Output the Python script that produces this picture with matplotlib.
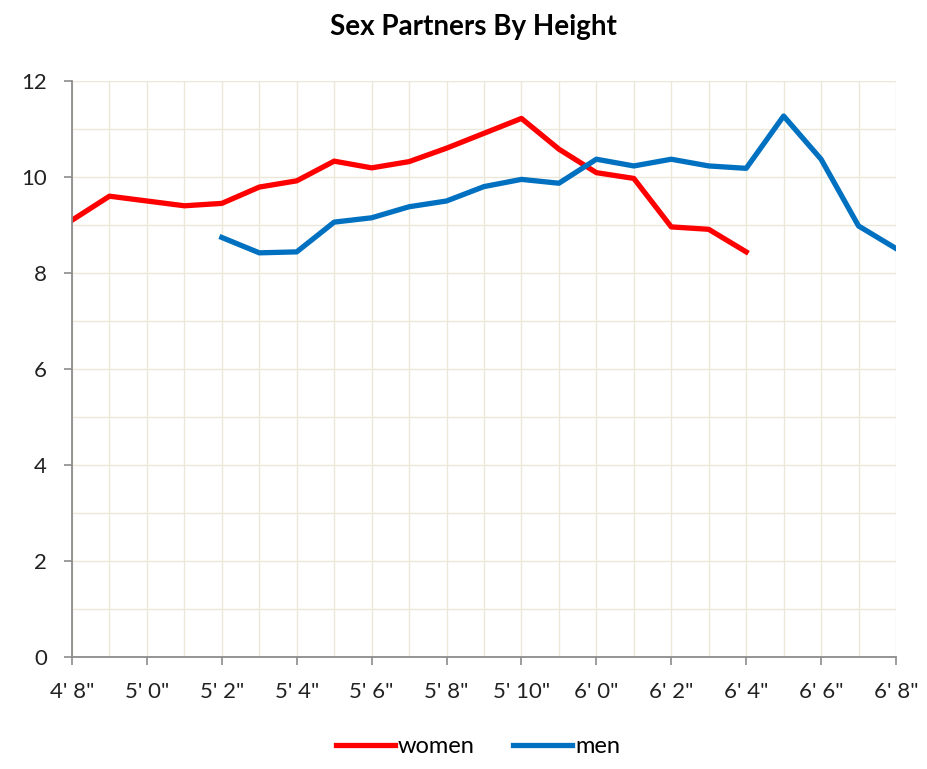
import numpy as np
import matplotlib.pyplot as plt
from matplotlib.ticker import MultipleLocator

# height categories (category axis, labels on every other one)
heights = ["4' 8\"", "4' 10\"", "5' 0\"", "5' 1\"", "5' 2\"", "5' 3\"", "5' 4\"", "5' 5\"",
           "5' 6\"", "5' 7\"", "5' 8\"", "5' 9\"", "5' 10\"", "5' 11\"", "6' 0\"", "6' 1\"",
           "6' 2\"", "6' 3\"", "6' 4\"", "6' 5\"", "6' 6\"", "6' 7\"", "6' 8\""]

women = [9.10, 9.60, 9.50, 9.40, 9.45, 9.79, 9.92, 10.33, 10.19, 10.32, 10.60, 10.91,
         11.22, 10.58, 10.09, 9.97, 8.96, 8.91, 8.44]
men = [8.74, 8.42, 8.44, 9.06, 9.15, 9.38, 9.50, 9.80, 9.95, 9.87, 10.37, 10.23,
       10.37, 10.23, 10.18, 11.27, 10.37, 8.98, 8.51]
men_start = 4

plt.rcParams['font.family'] = ['Lato', 'DejaVu Sans']

fig = plt.figure(figsize=(9.28, 7.69), dpi=100)
ax = fig.add_axes([0.0776, 0.1456, 0.8879, 0.7491])

x_w = np.arange(len(women))
x_m = np.arange(men_start, men_start + len(men))
ax.plot(x_w, women, color='#ff0000', lw=3.8, label='women', solid_joinstyle='round')
ax.plot(x_m, men, color='#0070c0', lw=3.8, label='men', solid_joinstyle='round')

ax.set_xlim(0, len(heights) - 1)
ax.set_ylim(0, 12)

ax.set_xticks(np.arange(0, len(heights), 2))
ax.set_xticklabels(heights[::2])
ax.xaxis.set_minor_locator(MultipleLocator(1))
ax.yaxis.set_major_locator(MultipleLocator(2))
ax.yaxis.set_minor_locator(MultipleLocator(1))

ax.grid(which='both', color='#ebe8da', lw=1)
ax.set_axisbelow(True)

for s in ['top', 'right']:
    ax.spines[s].set_visible(False)
for s in ['left', 'bottom']:
    ax.spines[s].set_color('#8c8c8c')
    ax.spines[s].set_linewidth(1.3)

ax.tick_params(which='major', length=6, width=1.2, color='#8c8c8c',
               labelsize=16, labelcolor='#222222')
ax.tick_params(axis='x', pad=12)
ax.tick_params(axis='y', pad=12)
ax.tick_params(which='minor', length=0)

fig.suptitle('Sex Partners By Height', x=0.51, y=0.982, fontsize=20, fontweight='bold')

fig.legend(loc='lower center', bbox_to_anchor=(0.515, -0.012), ncol=2, frameon=False,
           fontsize=17, handlelength=2.5, handletextpad=0.15, columnspacing=1.6)

fig.savefig('out.png', dpi=100)
